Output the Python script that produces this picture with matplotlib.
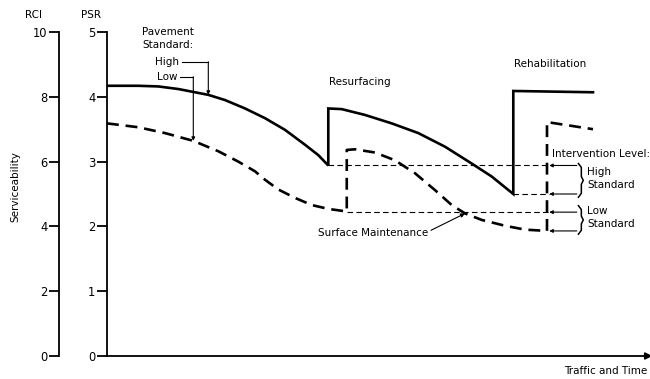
import numpy as np
import matplotlib
matplotlib.use("Agg")
import matplotlib.pyplot as plt


# ----------------------------------------------------------------------
# serviceability curves (x = traffic/time, 0-100; y = PSR, 0-5)
# ----------------------------------------------------------------------

# high pavement standard: resurfacing, then rehabilitation
high_x1 = [0, 5.8, 9.5, 13.2, 16.3, 18.76, 21.85, 25.56, 29.26, 32.96, 36.67, 39.13, 40.98]
high_y1 = [4.17, 4.17, 4.16, 4.12, 4.07, 4.03, 3.95, 3.82, 3.67, 3.49, 3.26, 3.10, 2.94]
high_x2 = [40.98, 43.46, 47.78, 52.72, 57.65, 62.59, 67.54, 71.24, 75.24]
high_y2 = [3.82, 3.81, 3.72, 3.59, 3.44, 3.23, 2.97, 2.77, 2.50]
high_x3 = [75.24, 90.0]
high_y3 = [4.09, 4.07]

# low pavement standard: surface maintenance, then rehabilitation
low_x1 = [0, 5.8, 10.74, 15.98, 20.61, 24.31, 27.41, 29.26, 31.72, 34.81, 37.91, 40.98, 44.4]
low_y1 = [3.59, 3.53, 3.44, 3.32, 3.16, 3.00, 2.85, 2.72, 2.57, 2.44, 2.33, 2.27, 2.23]
low_x2 = [44.4, 45.93, 49.63, 53.33, 57.04, 60.74, 63.83, 66.3, 69.39, 73.7, 77.41, 81.48]
low_y2 = [3.18, 3.19, 3.14, 3.02, 2.82, 2.56, 2.33, 2.20, 2.10, 2.01, 1.95, 1.93]
low_x3 = [81.48, 90.0]
low_y3 = [3.61, 3.50]

# intervention levels
level_high = 2.94
level_high_late = 2.50
level_low = 2.22
level_low_late = 1.93

psr_ticks = [0, 1, 2, 3, 4, 5]
rci_ticks = [0, 2, 4, 6, 8, 10]

FONT = "DejaVu Sans"
FS = 7.5


def connect(xa, ya, xb, yb):
    """Join consecutive segments with the vertical jump between them."""
    return list(xa) + list(xb), list(ya) + list(yb)


def brace(ax, x, y0, y1, w=0.9):
    ym = (y0 + y1) / 2
    r = 0.06
    xs = [x, x + w * 0.6, x + w * 0.6, x + w, x + w * 0.6, x + w * 0.6, x]
    ys = [y1, y1 - r, ym + r, ym, ym - r, y0 + r, y0]
    ax.plot(xs, ys, color="black", lw=1.1, clip_on=False)


def leader_arrow(ax, tip, tail, size=5):
    ax.annotate("", xy=tip, xytext=tail, annotation_clip=False,
                arrowprops=dict(arrowstyle="-|>", lw=0.8, color="black",
                                mutation_scale=size, shrinkA=0, shrinkB=0))


fig = plt.figure(figsize=(6.5, 3.79), dpi=100)
ax = fig.add_axes([107 / 650, 23 / 379, 540 / 650, 324 / 379])
ax.set_xlim(0, 100)
ax.set_ylim(0, 5)

for s in ["top", "right", "bottom"]:
    ax.spines[s].set_visible(False)
ax.spines["left"].set_linewidth(1.3)
ax.set_xticks([])
ax.set_yticks(psr_ticks)
ax.tick_params(axis="y", length=7, width=1.3, pad=1.5, labelsize=FS + 0.8)

# RCI scale is twice the PSR scale
rci = ax.secondary_yaxis(-48 / 540, functions=(lambda v: 2 * v, lambda v: v / 2))
rci.set_yticks(rci_ticks)
rci.spines["left"].set_linewidth(1.3)
rci.tick_params(axis="y", length=7, width=1.3, pad=1.5, labelsize=FS + 0.8)

# traffic axis with arrow
ax.annotate("", xy=(101, 0), xytext=(0, 0), annotation_clip=False,
            arrowprops=dict(arrowstyle="-|>", lw=1.3, color="black",
                            mutation_scale=10, shrinkA=0, shrinkB=0))

# curves
hx, hy = connect(*connect(high_x1, high_y1, high_x2, high_y2), high_x3, high_y3)
ax.plot(hx, hy, color="black", lw=1.9, solid_joinstyle="miter")
lx, ly = connect(*connect(low_x1, low_y1, low_x2, low_y2), low_x3, low_y3)
ax.plot(lx, ly, color="black", lw=1.9, dashes=(4.5, 2.6))

# intervention levels (thin dashed) with return arrows
x_brace = 87.0
x_tip = 81.9
for x0, y in [(high_x1[-1], level_high), (high_x2[-1], level_high_late),
              (low_x1[-1], level_low)]:
    ax.plot([x0, x_tip], [y, y], color="black", lw=0.8, dashes=(5, 3))
for y in [level_high, level_high_late, level_low, level_low_late]:
    leader_arrow(ax, (x_tip, y), (x_brace, y))

brace(ax, 87.3, level_high_late - 0.05, level_high + 0.03)
brace(ax, 87.3, level_low_late - 0.05, level_low + 0.1)

# pavement standard labels and leaders
ax.text(6.5, 5.0, "Pavement", fontsize=FS, family=FONT, va="center")
ax.text(6.5, 4.80, "Standard:", fontsize=FS, family=FONT, va="center")
ax.text(13.3, 4.54, "High", fontsize=FS, family=FONT, va="center", ha="right")
ax.text(13.1, 4.31, "Low", fontsize=FS, family=FONT, va="center", ha="right")
ax.plot([13.8, high_x1[5]], [4.54, 4.54], color="black", lw=0.8)
leader_arrow(ax, (high_x1[5], high_y1[5]), (high_x1[5], 4.54))
ax.plot([13.6, low_x1[3]], [4.31, 4.31], color="black", lw=0.8)
leader_arrow(ax, (low_x1[3], low_y1[3]), (low_x1[3], 4.31))

ax.text(46.9, 4.23, "Resurfacing", fontsize=FS, family=FONT, ha="center", va="center")
ax.text(82.0, 4.51, "Rehabilitation", fontsize=FS, family=FONT, ha="center", va="center")
ax.text(82.4, 3.12, "Intervention Level:", fontsize=FS, family=FONT, va="center")
ax.text(88.9, 2.84, "High", fontsize=FS, family=FONT, va="center")
ax.text(88.9, 2.64, "Standard", fontsize=FS, family=FONT, va="center")
ax.text(88.9, 2.24, "Low", fontsize=FS, family=FONT, va="center")
ax.text(88.9, 2.04, "Standard", fontsize=FS, family=FONT, va="center")

ax.text(59.4, 1.90, "Surface Maintenance", fontsize=FS, family=FONT,
        ha="right", va="center")
leader_arrow(ax, (low_x2[7], low_y2[7]), (60.0, 1.94), size=6)

ax.text(100, -0.23, "Traffic and Time", fontsize=FS, family=FONT,
        ha="right", va="center", clip_on=False)

# axis titles
fig.text(33 / 650, 1 - 15 / 379, "RCI", fontsize=FS, family=FONT, ha="center", va="center")
fig.text(91 / 650, 1 - 15 / 379, "PSR", fontsize=FS, family=FONT, ha="center", va="center")
fig.text(15 / 650, 1 - 187 / 379, "Serviceability", fontsize=FS, family=FONT,
         ha="center", va="center", rotation=90)

fig.savefig("out.png", dpi=100)
